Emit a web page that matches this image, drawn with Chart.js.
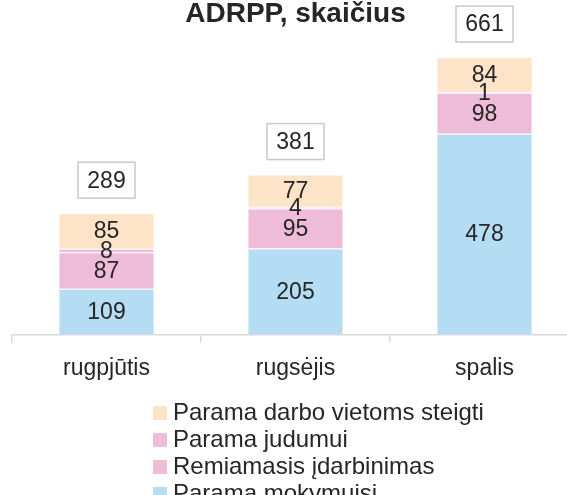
<!DOCTYPE html>
<html>
<head>
<meta charset="utf-8">
<script src="https://cdn.jsdelivr.net/npm/chart.js@4"></script>
<style>
  html, body { margin: 0; padding: 0; background: #fff; overflow: hidden; }
  #wrap { position: relative; width: 586px; height: 495px; }
  #legend { position: absolute; left: 153px; top: 398px; font-family: "Liberation Sans", Arial, sans-serif;
            font-size: 24px; color: #262626; line-height: 27px; }
  #legend div { white-space: nowrap; }
  #legend span { display: inline-block; width: 14px; height: 14px; margin-right: 6px; vertical-align: 0px; }
</style>
</head>
<body>
<div id="wrap">
  <canvas id="chart"></canvas>
  <div id="legend"></div>
</div>
<script>
let months = ['rugpjūtis', 'rugsėjis', 'spalis'];
let mokymuisi = [109, 205, 478];
let remiamasis = [87, 95, 98];
let judumui = [8, 4, 1];
let steigti = [85, 77, 84];
let totals = [289, 381, 661];

let seriesNames = ['Parama mokymuisi', 'Remiamasis įdarbinimas', 'Parama judumui', 'Parama darbo vietoms steigti'];
let seriesColors = ['#b4dcf2', '#eebcd8', '#eebcd8', '#fde3c7'];

let fontName = '"Liberation Sans", Arial, sans-serif';
let textColor = '#262626';

function makeDataset(i, values) {
  return {
    label: seriesNames[i],
    data: values,
    backgroundColor: seriesColors[i],
    borderColor: 'rgba(255,255,255,0.6)',
    borderWidth: {top: 1, bottom: 0, left: 0, right: 0},
    borderSkipped: false,
    categoryPercentage: 1,
    barPercentage: 0.5
  };
};

// writes the numbers in the middle of each piece and the boxed totals
let labelPlugin = {
  id: 'labels',
  afterDatasetsDraw(chart) {
    let ctx = chart.ctx;
    ctx.save();
    ctx.font = '23px ' + fontName;
    ctx.fillStyle = textColor;
    ctx.textAlign = 'center';
    ctx.textBaseline = 'middle';
    chart.data.datasets.forEach((ds, i) => {
      let meta = chart.getDatasetMeta(i);
      meta.data.forEach((bar, j) => {
        let mid = (bar.y + bar.base) / 2;
        ctx.fillText(String(ds.data[j]), bar.x, mid + 1);
      });
    });
    let top = chart.getDatasetMeta(chart.data.datasets.length - 1);
    top.data.forEach((bar, j) => {
      let cy = bar.y - 33;
      let w = 57, h = 36;
      ctx.fillStyle = '#fff';
      ctx.fillRect(bar.x - w / 2, cy - h / 2, w, h);
      ctx.strokeStyle = '#c9c9c9';
      ctx.lineWidth = 1.5;
      ctx.strokeRect(bar.x - w / 2, cy - h / 2, w, h);
      ctx.fillStyle = textColor;
      ctx.fillText(String(totals[j]), bar.x, cy + 1);
    });
    ctx.restore();
  }
};

let chart = new Chart(document.getElementById('chart'), {
  type: 'bar',
  data: {
    labels: months,
    datasets: [
      makeDataset(0, mokymuisi),
      makeDataset(1, remiamasis),
      makeDataset(2, judumui),
      makeDataset(3, steigti)
    ]
  },
  options: {
    responsive: true,
    maintainAspectRatio: false,
    animation: false,
    layout: {padding: {left: 12, right: 7, top: 0, bottom: 101}},
    plugins: {
      legend: {display: false},
      tooltip: {enabled: false},
      title: {
        display: true,
        text: 'ADRPP, skaičius',
        color: textColor,
        font: {family: fontName, size: 28, weight: 'bold'},
        padding: {top: -3, bottom: 3}
      }
    },
    scales: {
      x: {
        stacked: true,
        grid: {display: true, drawOnChartArea: false, offset: true, tickLength: 8, color: '#d9d9d9', lineWidth: 1.5},
        border: {color: '#d9d9d9', width: 1.5},
        ticks: {color: textColor, font: {family: fontName, size: 23}, padding: 12}
      },
      y: {
        stacked: true,
        display: false,
        min: 0,
        max: 717
      }
    }
  },
  plugins: [labelPlugin]
});

// legend list, top item first as in the original
let legend = document.getElementById('legend');
for (let i = chart.data.datasets.length - 1; i >= 0; i--) {
  let row = document.createElement('div');
  let box = document.createElement('span');
  box.style.background = chart.data.datasets[i].backgroundColor;
  row.appendChild(box);
  row.appendChild(document.createTextNode(chart.data.datasets[i].label));
  legend.appendChild(row);
};
</script>
</body>
</html>
